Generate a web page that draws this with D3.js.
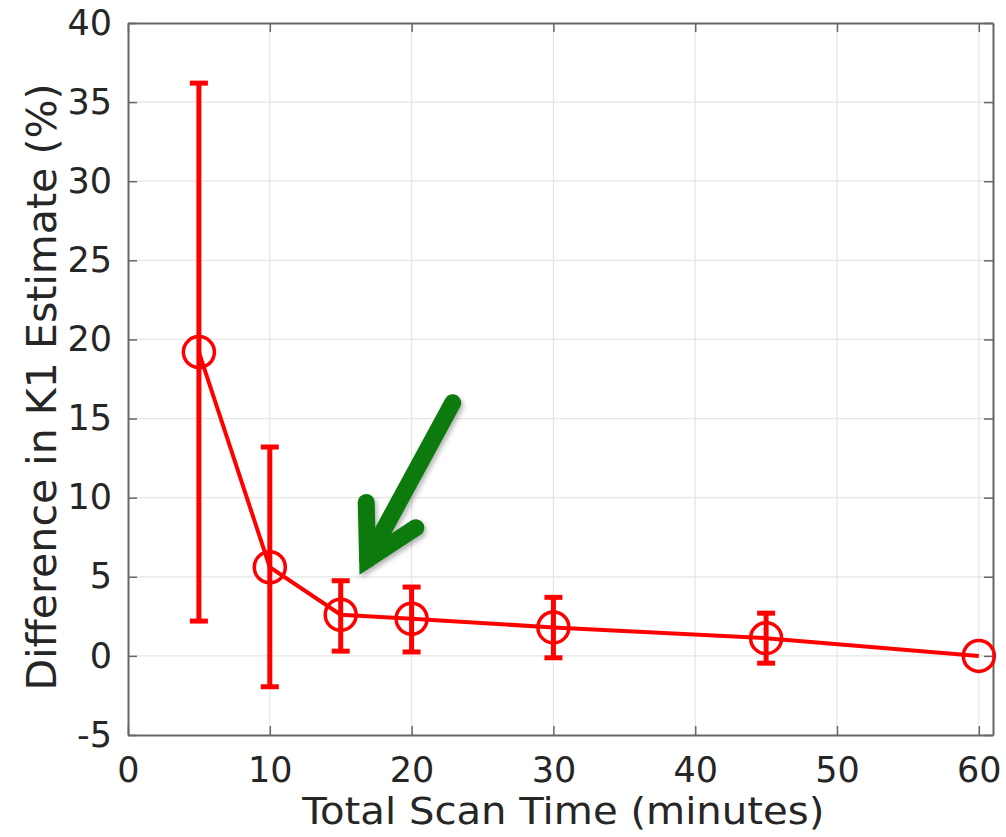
<!DOCTYPE html>
<head>
    <meta charset="utf-8">
    <script src="https://d3js.org/d3.v7.min.js"></script>
    <style>
        body { margin:0; background:#fff; }
        text { font-family: "DejaVu Sans", sans-serif; fill: #262626; }
        .grid line { stroke: #e6e6e6; stroke-width: 1.2; }
        .tick text { font-size: 35px; }
        .err { stroke: red; stroke-width: 5; fill: none; }
        .line { stroke: red; stroke-width: 4; fill: none; }
        .marker { stroke: red; stroke-width: 3.5; fill: none; }
        .arrow { stroke: #0a7a0a; stroke-width: 17; fill: none; stroke-linecap: round; stroke-linejoin: miter; }
    </style>
</head>

<body>
<script>
    // scan times (minutes) and K1 difference (%)
    var times = [5, 10, 15, 20, 30, 45, 60];
    var means = [19.2, 5.6, 2.6, 2.35, 1.8, 1.12, 0];
    var upper = [36.2, 13.2, 4.75, 4.35, 3.7, 2.7, null];
    var lower = [2.2, -1.95, 0.3, 0.25, -0.12, -0.46, null];

    var xTicks = [0, 10, 20, 30, 40, 50, 60];
    var yTicks = [-5, 0, 5, 10, 15, 20, 25, 30, 35, 40];

    // annotation arrow, in data units
    var arrowShaft = [[22.9, 16.0], [16.9, 6.1]];
    var arrowHead = [[16.8, 9.7], [16.9, 6.1], [20.3, 8.1]];

    var width = 1006, height = 837;
    var margin = { top: 23, right: 13, bottom: 102, left: 128 };
    var w = width - margin.left - margin.right;
    var h = height - margin.top - margin.bottom;

    var svg = d3.select("body").append("svg")
        .attr("width", width)
        .attr("height", height);

    var defs = svg.append("defs");
    var f = defs.append("filter").attr("id", "shadow")
        .attr("x", "-20%").attr("y", "-20%").attr("width", "140%").attr("height", "140%");
    f.append("feDropShadow").attr("dx", 2).attr("dy", 3).attr("stdDeviation", 2.5)
        .attr("flood-color", "#000").attr("flood-opacity", 0.3);

    var g = svg.append("g").attr("transform", "translate(" + margin.left + "," + margin.top + ")");

    var x = d3.scaleLinear().domain([0, 61]).range([0, w]);
    var y = d3.scaleLinear().domain([-5, 40]).range([h, 0]);

    // grid
    g.append("g").attr("class", "grid")
        .selectAll("line.v").data(xTicks.filter(d => d > 0)).enter().append("line")
        .attr("x1", d => x(d)).attr("x2", d => x(d)).attr("y1", 0).attr("y2", h);
    g.select(".grid")
        .selectAll("line.h").data(yTicks.filter(d => d > -5 && d < 40)).enter().append("line")
        .attr("x1", 0).attr("x2", w).attr("y1", d => y(d)).attr("y2", d => y(d));

    // axes (ticks pointing inward)
    var fmt = d => String(d);
    var xAxis = g.append("g").attr("transform", "translate(0," + h + ")")
        .call(d3.axisBottom(x).tickValues(xTicks).tickFormat(fmt).tickSizeInner(-9).tickSizeOuter(0).tickPadding(22));
    var yAxis = g.append("g")
        .call(d3.axisLeft(y).tickValues(yTicks).tickFormat(fmt).tickSizeInner(-9).tickSizeOuter(0).tickPadding(16));
    var xTop = g.append("g")
        .call(d3.axisTop(x).tickValues(xTicks).tickSizeInner(-9).tickSizeOuter(0).tickFormat(""));
    var yRight = g.append("g").attr("transform", "translate(" + w + ",0)")
        .call(d3.axisRight(y).tickValues(yTicks).tickSizeInner(-9).tickSizeOuter(0).tickFormat(""));

    [xAxis, yAxis, xTop, yRight].forEach(a => {
        a.select(".domain").attr("stroke", "#666").attr("stroke-width", 2);
        a.selectAll(".tick line").attr("stroke", "#666").attr("stroke-width", 1.5);
        a.selectAll(".tick text").attr("fill", "#2b2b2b");
    });
    xAxis.selectAll(".tick text").attr("dy", "0.71em");

    // error bars
    var pts = times.map((t, i) => ({ t: t, m: means[i], hi: upper[i], lo: lower[i] }));
    var eb = pts.filter(d => d.hi != null);
    var cap = 9;
    var errG = g.append("g");
    errG.selectAll("line.bar").data(eb).enter().append("line").attr("class", "err")
        .attr("x1", d => x(d.t)).attr("x2", d => x(d.t))
        .attr("y1", d => y(d.hi)).attr("y2", d => y(d.lo));
    errG.selectAll("line.top").data(eb).enter().append("line").attr("class", "err")
        .attr("x1", d => x(d.t) - cap).attr("x2", d => x(d.t) + cap)
        .attr("y1", d => y(d.hi)).attr("y2", d => y(d.hi));
    errG.selectAll("line.bot").data(eb).enter().append("line").attr("class", "err")
        .attr("x1", d => x(d.t) - cap).attr("x2", d => x(d.t) + cap)
        .attr("y1", d => y(d.lo)).attr("y2", d => y(d.lo));

    // line + circle markers
    g.append("path").attr("class", "line")
        .attr("d", d3.line().x(d => x(d.t)).y(d => y(d.m))(pts));
    g.selectAll("circle.marker").data(pts).enter().append("circle").attr("class", "marker")
        .attr("cx", d => x(d.t)).attr("cy", d => y(d.m)).attr("r", 15.5);

    // green arrow
    var line = d3.line().x(d => x(d[0])).y(d => y(d[1]));
    var ag = g.append("g").attr("filter", "url(#shadow)");
    ag.append("path").attr("class", "arrow").attr("d", line(arrowShaft));
    ag.append("path").attr("class", "arrow").attr("stroke-miterlimit", 10).attr("d", line(arrowHead));

    // axis labels
    svg.append("text")
        .attr("x", margin.left + x(30.7)).attr("y", 824)
        .attr("text-anchor", "middle").style("font-size", "38px")
        .attr("textLength", 522).attr("lengthAdjust", "spacingAndGlyphs")
        .text("Total Scan Time (minutes)");
    svg.append("text")
        .attr("transform", "translate(56,387) rotate(-90)")
        .attr("text-anchor", "middle").style("font-size", "40px")
        .attr("textLength", 607).attr("lengthAdjust", "spacingAndGlyphs")
        .text("Difference in K1 Estimate (%)");
</script>
</body>
